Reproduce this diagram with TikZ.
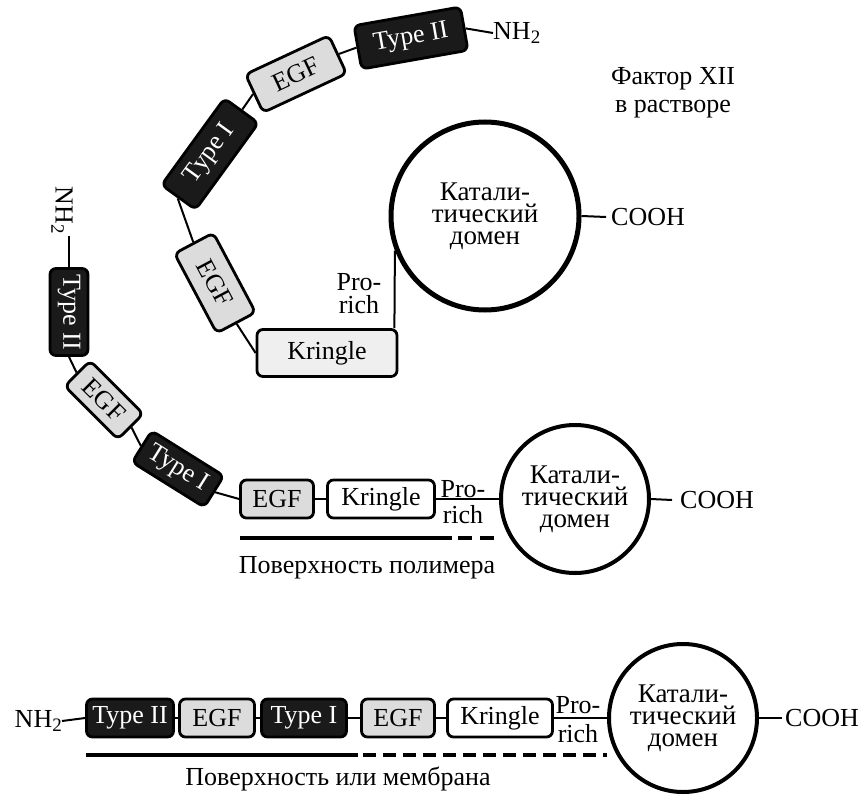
\documentclass[tikz,border=0pt]{standalone}
\usepackage{fontspec}
\setmainfont{Liberation Serif}
\definecolor{boxdark}{HTML}{1A1A1A}
\definecolor{egfgray}{HTML}{DCDCDC}
\definecolor{krgray}{HTML}{EFEFEF}
\newcommand{\nhtwo}{NH\raisebox{-0.35ex}{\fontsize{19}{19}\selectfont 2}}
\begin{document}
\begin{tikzpicture}[x=1pt,y=-1pt,
  every node/.style={font=\fontsize{26}{23}\selectfont, inner sep=0pt},
  dom/.style={draw=black, line width=2.8pt, rounded corners=6pt, align=center},
  darkbox/.style={dom, fill=boxdark, text=white},
  egfbox/.style={dom, fill=egfgray},
  krbox/.style={dom, fill=white},
  catdom/.style={circle, draw=black, align=center, fill=white, font=\fontsize{27}{22}\selectfont},
  conn/.style={line width=2pt},
  surf/.style={line width=4pt},
  surfdash/.style={line width=4pt, dash pattern=on 13pt off 7pt},
  lab/.style={inner sep=0pt, align=center},
]
\useasboundingbox (0,0) rectangle (858,794);

% ---------- Factor XII in solution ----------
\node[lab] (title) at (673,93) {Фактор XII\\[5pt]в растворе};

\node[darkbox, minimum width=108, minimum height=44, rotate=10] (T2a) at (411,38) {Type II};
\node[egfbox, minimum width=92, minimum height=42, rotate=25] (E1a) at (296,74) {EGF};
\node[darkbox, minimum width=107, minimum height=42, rotate=54] (T1a) at (210,154) {Type I};
\node[egfbox, minimum width=90, minimum height=44, rotate=-62] (E2a) at (215,283) {EGF};
\node[dom, fill=krgray, minimum width=140, minimum height=47] (Ka) at (327,353) {Kringle};
\node[catdom, line width=5pt, minimum size=188] (cat1) at (485,216) {Катали-\\тический\\домен};
\node[lab, anchor=west] (nh1) at (493,33) {\nhtwo};
\node[lab, anchor=west] (coo1) at (611,217) {COOH};
\node[lab] (pr1) at (359,294) {Pro-\\rich};

\draw[conn] (T2a.east) -- (nh1.west);
\draw[conn] (T2a.west) -- (E1a.east);
\draw[conn] (E1a.west) -- (T1a.east);
\draw[conn] (T1a.west) -- (E2a.west);
\draw[conn] (E2a.east) -- (Ka.west);
\draw[conn] ([xshift=-4pt]Ka.north east) -- (cat1.201);
\draw[conn] (cat1.east) -- ([xshift=-5pt]coo1.west);

% ---------- on polymer surface ----------
\node[lab, rotate=-90] (nh2) at (62,210) {\nhtwo};
\coordinate (nh2end) at (69,236);
\node[darkbox, minimum width=87, minimum height=38, rotate=-90] (T2b) at (69,312) {Type II};
\node[egfbox, minimum width=75, minimum height=36, rotate=-45] (E3b) at (104,400) {EGF};
\node[darkbox, minimum width=85, minimum height=37, rotate=-32] (T1b) at (178,469) {Type I};
\node[egfbox, minimum width=73, minimum height=38] (E4b) at (277,499) {EGF};
\node[krbox, minimum width=107, minimum height=38] (Kb) at (381,499) {Kringle};
\node[catdom, line width=4pt, minimum size=148] (cat2) at (575,499) {Катали-\\тический\\домен};
\node[lab, anchor=west] (coo2) at (680,500) {COOH};
\node[lab] (pr2) at (463,502) {Pro-\\[3pt]rich};

\draw[conn] (nh2end) -- (T2b.west);
\draw[conn] (T2b.east) -- (E3b.west);
\draw[conn] (E3b.east) -- (T1b.west);
\draw[conn] (T1b.east) -- (E4b.west);
\draw[conn] (E4b.east) -- (Kb.west);
\draw[conn] (Kb.east) -- (cat2.west);
\draw[conn] (cat2.east) -- ([xshift=-8pt]coo2.west);

\coordinate (s1a) at (240,538);
\coordinate (s1b) at (452,538);
\coordinate (s1c) at (458,538);
\coordinate (s1d) at (495,538);
\draw[surf] (s1a) -- (s1b);
\draw[surfdash, dash pattern=on 14pt off 8pt] (s1c) -- (s1d);
\node[lab] (poly) at (367,568) {Поверхность полимера};

% ---------- on surface or membrane ----------
\node[lab, anchor=east] (nh3) at (62,721) {\nhtwo};
\node[darkbox, minimum width=87, minimum height=38] (T2c) at (130,718) {Type II};
\node[egfbox, minimum width=75, minimum height=38] (E1c) at (217,718) {EGF};
\node[darkbox, minimum width=85, minimum height=38] (T1c) at (304,718) {Type I};
\node[egfbox, minimum width=73, minimum height=38] (E2c) at (398,718) {EGF};
\node[krbox, minimum width=105, minimum height=38] (Kc) at (500,718) {Kringle};
\node[catdom, line width=4pt, minimum size=148] (cat3) at (683,718) {Катали-\\тический\\домен};
\node[lab, anchor=west] (coo3) at (785,718) {COOH};
\node[lab] (pr3) at (578,720) {Pro-\\[6pt]rich};

\draw[conn] (nh3.east) -- (T2c.west);
\draw[conn] (T2c.east) -- (E1c.west);
\draw[conn] (E1c.east) -- (T1c.west);
\draw[conn] (T1c.east) -- (E2c.west);
\draw[conn] (E2c.east) -- (Kc.west);
\draw[conn] (Kc.east) -- (cat3.west);
\draw[conn] (cat3.east) -- ([xshift=-3pt]coo3.west);

\coordinate (s2a) at (86,755);
\coordinate (s2b) at (358,755);
\coordinate (s2c) at (363,755);
\coordinate (s2d) at (607,755);
\draw[surf] (s2a) -- (s2b);
\draw[surfdash] (s2c) -- (s2d);
\node[lab] (memb) at (338,779) {Поверхность или мембрана};
\end{tikzpicture}
\end{document}
